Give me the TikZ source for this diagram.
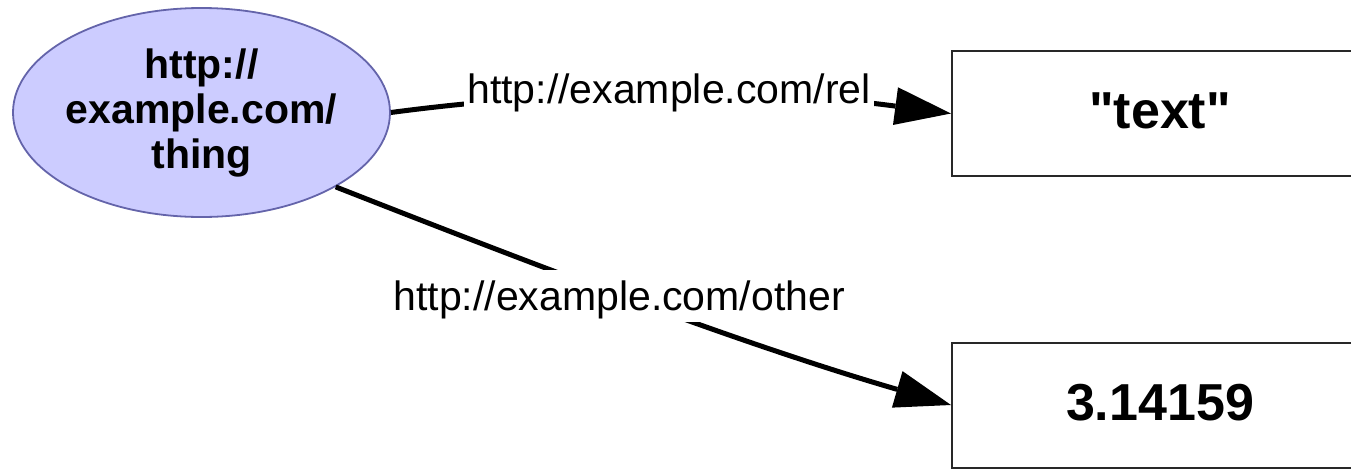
\documentclass[tikz,border=0pt]{standalone}
\usepackage{fontspec}
\setmainfont{Liberation Sans}[Ligatures=TeXOff]
\usetikzlibrary{shapes.geometric,arrows.meta}

\definecolor{nodefill}{RGB}{204,204,255}
\definecolor{nodeline}{RGB}{100,100,170}
\definecolor{boxline}{RGB}{40,40,40}

\begin{document}
\begin{tikzpicture}[x=1pt,y=1pt,
  resource/.style={ellipse, draw=nodeline, line width=1.8pt, fill=nodefill,
    minimum width=377pt, minimum height=209pt, inner xsep=-3pt, inner ysep=0pt,
    align=center, font=\bfseries\fontsize{41}{45}\selectfont},
  literal/.style={rectangle, draw=boxline, line width=2pt, fill=white,
    minimum width=416pt, minimum height=125pt, inner sep=0pt, text depth=5pt,
    font=\bfseries\fontsize{52}{60}\selectfont},
  prop/.style={line width=5pt, -{Triangle[length=56pt,width=38pt,line width=0pt]}},
  proplabel/.style={fill=white, inner sep=3pt, text height=37pt, text depth=9pt,
    font=\fontsize{41}{48}\selectfont}]

  \useasboundingbox (0,0) rectangle (1351,-469);

  % subject and the two literal objects
  \node[resource] (thing) at (201.5,-112.5) {http://\\example.com/\\thing};
  \node[literal] (text) at (1160,-113.5) {"text"};
  \node[literal] (pi) at (1160,-405) {3.14159};

  % properties
  \draw[prop] (thing.east) .. controls +(188,25) and +(-188,25) .. (text.west)
    node[proplabel, pos=0.5, xshift=-2pt, yshift=5pt] (rel) {http://example.com/rel};
  \draw[prop] (thing.-29.5) .. controls +(204,-80) and +(-210,61) .. (pi.west)
    node[proplabel, pos=0.5, xshift=-22pt, yshift=7pt] (other) {http://example.com/other};
\end{tikzpicture}
\end{document}
